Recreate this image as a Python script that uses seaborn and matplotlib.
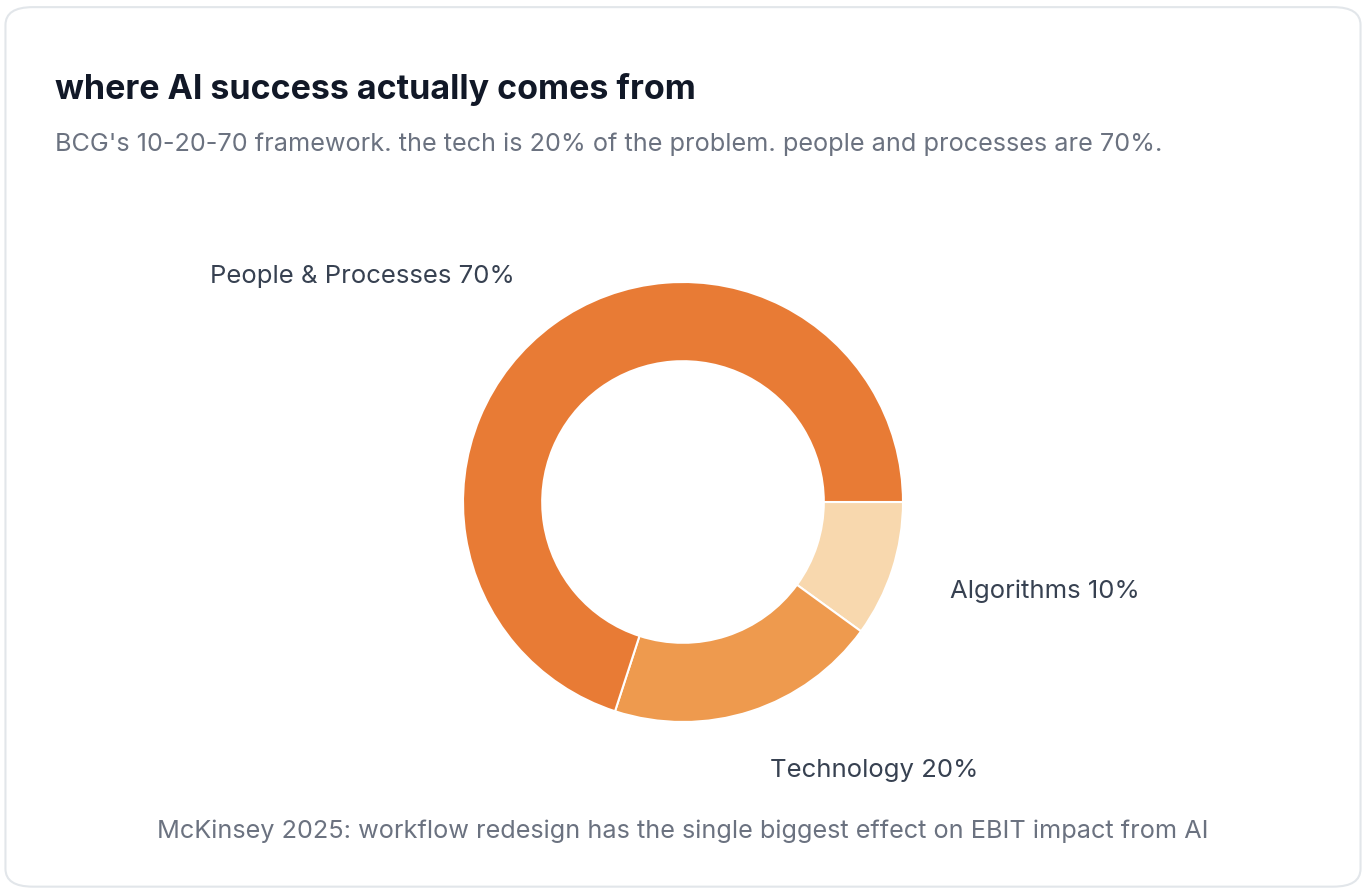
import matplotlib.pyplot as plt
import seaborn as sns
from matplotlib.patches import FancyBboxPatch

sns.set_theme(style="white")
plt.rcParams['font.family'] = ['Inter', 'DejaVu Sans']

# Data
labels = ["Algorithms", "Technology", "People & Processes"]
shares = [10, 20, 70]
colors = ["#F8D8AE", "#EE9A4E", "#E87B35"]

fig = plt.figure(figsize=(13.66, 8.92), dpi=100)

# Card background
card = FancyBboxPatch((0.004, 0.006), 0.992, 0.986, boxstyle="round,pad=0,rounding_size=0.02",
                      transform=fig.transFigure, facecolor="white", edgecolor="#E2E6EA",
                      linewidth=1.5, zorder=-10)
fig.patches.append(card)

# Donut
ax = fig.add_axes([(683 - 220) / 1366, 1 - (502 + 220) / 892, 440 / 1366, 440 / 892])
ax.patch.set_alpha(0)
ax.pie(shares, colors=colors, startangle=0, counterclock=False,
       wedgeprops=dict(width=0.36, edgecolor="white", linewidth=1.5))
ax.set_xlim(-1, 1)
ax.set_ylim(-1, 1)
ax.axis("off")

# Slice labels
label_pos = {"People & Processes": (210, 277), "Algorithms": (950, 591), "Technology": (770, 770)}
for name, val in zip(labels, shares):
    x, y = label_pos[name]
    fig.text(x / 1366, 1 - y / 892, f"{name} {val}%", fontsize=18.5, color="#374151", va="center")

# Titles
fig.text(55 / 1366, 1 - 90 / 892, "where AI success actually comes from", fontsize=24.5,
         fontweight="bold", color="#111827", va="center")
fig.text(55 / 1366, 1 - 144 / 892,
         "BCG's 10-20-70 framework. the tech is 20% of the problem. people and processes are 70%.",
         fontsize=18.2, color="#6B7280", va="center")
fig.text(683 / 1366, 1 - 831 / 892,
         "McKinsey 2025: workflow redesign has the single biggest effect on EBIT impact from AI",
         fontsize=18.2, color="#6B7280", va="center", ha="center")

plt.savefig("out.png", dpi=100)
